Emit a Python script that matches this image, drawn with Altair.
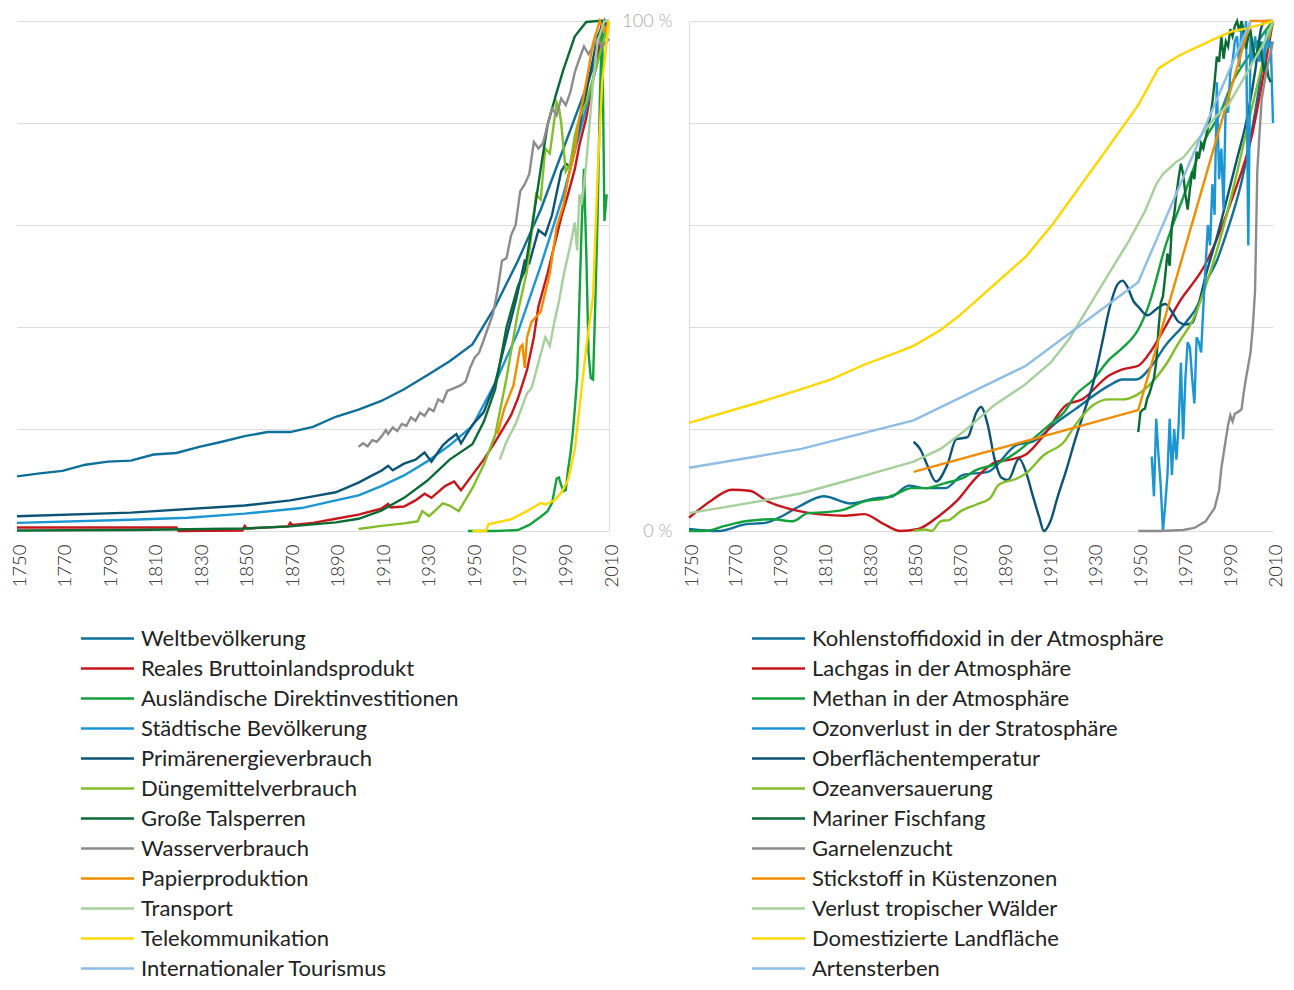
import altair as alt
import pandas as pd

# ---------------- Left panel: socio-economic trends ----------------
LEFT_NAMES = [
    "Weltbevölkerung", "Reales Bruttoinlandsprodukt", "Ausländische Direktinvestitionen",
    "Städtische Bevölkerung", "Primärenergieverbrauch", "Düngemittelverbrauch",
    "Große Talsperren", "Wasserverbrauch", "Papierproduktion", "Transport",
    "Telekommunikation", "Internationaler Tourismus",
]
RIGHT_NAMES = [
    "Kohlenstoffidoxid in der Atmosphäre", "Lachgas in der Atmosphäre", "Methan in der Atmosphäre",
    "Ozonverlust in der Stratosphäre", "Oberflächentemperatur", "Ozeanversauerung",
    "Mariner Fischfang", "Garnelenzucht", "Stickstoff in Küstenzonen",
    "Verlust tropischer Wälder", "Domestizierte Landfläche", "Artensterben",
]
COLORS = ["#0e6f98", "#c8161d", "#12a13c", "#1b96d3", "#0c5475", "#82be28",
          "#0a6b35", "#8c8c8c", "#f28c00", "#a5d09b", "#ffd700", "#8dbde6"]
YEAR_TICKS = list(range(1750, 2011, 20))

welt_y = [1750, 1760, 1770, 1780, 1790, 1800, 1810, 1820, 1830, 1840, 1850, 1860, 1870, 1880,
          1890, 1900, 1910, 1920, 1930, 1940, 1950, 1960, 1970, 1980, 1990, 2000, 2010]
welt_v = [10.7, 11.3, 11.8, 13.0, 13.6, 13.8, 15.0, 15.3, 16.5, 17.5, 18.6, 19.4, 19.4, 20.4,
          22.4, 23.8, 25.5, 27.8, 30.5, 33.3, 36.6, 44.0, 53.0, 63.0, 75.0, 87.0, 100.0]

bip_y = [1750, 1820, 1821, 1849, 1850, 1851, 1869, 1870, 1871, 1880, 1890, 1900, 1910, 1913, 1914,
         1920, 1925, 1929, 1932, 1938, 1942, 1945, 1950, 1955, 1960, 1967, 1970, 1974, 1977, 1979,
         1983, 1986, 1989, 1992, 1995, 1997, 2000, 2002, 2004, 2006, 2007, 2008, 2009, 2010]
bip_v = [0.7, 0.7, 0.0, 0.1, 1.0, 0.5, 0.9, 1.6, 1.2, 1.6, 2.4, 3.2, 4.4, 5.3, 4.6,
         4.8, 6.0, 7.3, 6.5, 8.8, 9.7, 8.0, 11.0, 14.0, 17.5, 22.7, 26.0, 31.6, 38.0, 44.0,
         50.5, 56.0, 61.5, 66.0, 71.0, 75.7, 81.0, 86.0, 91.0, 97.0, 100.0, 100.0, 99.0, 100.0]

fdi_y = [1948, 1960, 1970, 1975, 1980, 1983, 1985, 1987, 1988, 1989, 1990, 1991, 1992, 1993, 1994,
         1995, 1996, 1997, 1998, 1999, 2000, 2001, 2002, 2003, 2004, 2005, 2006, 2007, 2008, 2009]
fdi_v = [0.0, 0.0, 0.2, 1.2, 2.8, 3.9, 5.5, 10.3, 10.5, 9.0, 7.8, 8.0, 12.0, 15.0, 18.8,
         24.0, 30.0, 45.0, 60.0, 71.0, 55.0, 35.0, 30.0, 29.7, 45.0, 62.0, 85.0, 100.0, 60.8, 66.0]

stadt_y = [1750, 1800, 1825, 1850, 1875, 1890, 1900, 1910, 1920, 1930, 1940, 1950, 1960, 1970,
           1980, 1990, 2000, 2005, 2010]
stadt_v = [1.6, 2.2, 2.6, 3.4, 4.5, 6.0, 7.0, 8.8, 10.9, 13.6, 16.8, 20.6, 29.0, 39.0,
           52.0, 66.0, 83.0, 92.0, 100.0]

energie_y = [1750, 1800, 1850, 1870, 1880, 1890, 1900, 1906, 1910, 1913, 1915, 1920, 1925, 1929,
             1932, 1937, 1940, 1943, 1945, 1950, 1955, 1960, 1965, 1969, 1973, 1975, 1979, 1982,
             1985, 1989, 1991, 1993, 1995, 2000, 2005, 2008, 2009, 2010]
energie_v = [2.9, 3.6, 5.0, 6.0, 6.8, 7.6, 9.5, 10.9, 11.8, 12.8, 11.9, 13.2, 14.0, 15.4,
             13.6, 16.8, 18.0, 19.0, 17.2, 20.8, 23.3, 29.0, 38.0, 45.0, 53.0, 52.5, 59.0, 58.0,
             62.0, 70.5, 72.0, 71.5, 75.0, 86.0, 97.0, 100.0, 98.0, 100.0]

duenger_y = [1900, 1910, 1920, 1926, 1928, 1931, 1937, 1940, 1944, 1950, 1955, 1960, 1965, 1970,
             1974, 1978, 1980, 1982, 1984, 1987, 1988, 1989, 1991, 1993, 1995, 1997, 2000, 2005, 2010]
duenger_v = [0.4, 1.0, 1.5, 1.9, 3.9, 2.9, 5.4, 5.0, 3.9, 8.4, 13.0, 18.8, 30.0, 43.0,
             51.0, 66.0, 65.0, 75.0, 74.0, 84.0, 83.0, 80.0, 70.5, 72.0, 77.5, 81.0, 84.0, 92.0, 100.0]

talsperren_y = [1750, 1800, 1850, 1870, 1890, 1900, 1910, 1920, 1930, 1940, 1950, 1955, 1960, 1965,
                1970, 1973, 1977, 1980, 1983, 1987, 1990, 1995, 2000, 2005, 2010]
talsperren_v = [0.1, 0.2, 0.5, 0.9, 1.7, 2.4, 4.0, 6.5, 9.8, 14.0, 17.0, 21.4, 27.8, 40.0,
                48.0, 51.0, 62.0, 71.0, 79.6, 86.0, 90.5, 97.0, 99.8, 100.0, 100.0]

wasser_y = [1900, 1902, 1904, 1906, 1908, 1910, 1912, 1913, 1915, 1917, 1919, 1921, 1923, 1925,
            1927, 1929, 1931, 1933, 1935, 1937, 1939, 1941, 1943, 1945, 1947, 1949, 1951, 1953,
            1955, 1957, 1959, 1961, 1963, 1965, 1967, 1969, 1971, 1973, 1975, 1977, 1979, 1981,
            1983, 1985, 1987, 1989, 1991, 1993, 1995, 1997, 1999, 2001, 2003, 2005, 2007, 2010]
wasser_v = [16.5, 17.2, 16.6, 17.8, 17.5, 18.5, 19.8, 19.0, 20.3, 19.6, 21.0, 20.6, 22.3, 21.6,
            23.2, 22.6, 24.0, 23.5, 25.8, 25.3, 27.5, 27.8, 28.2, 28.6, 29.3, 32.0, 34.0, 35.0,
            37.5, 40.0, 42.5, 47.0, 53.0, 53.5, 58.0, 60.0, 66.6, 68.0, 70.0, 76.3, 75.0, 76.0,
            79.6, 82.9, 81.5, 84.8, 83.5, 86.0, 90.0, 92.6, 95.0, 93.5, 95.0, 96.5, 95.0, 96.5]

papier_y = [1961, 1964, 1968, 1971, 1972, 1973, 1974, 1976, 1980, 1984, 1987, 1990, 1992, 1995,
            1997, 2000, 2003, 2006, 2008, 2010]
papier_v = [19.0, 24.0, 28.5, 36.0, 36.5, 32.0, 38.0, 41.0, 43.0, 50.5, 59.6, 64.0, 69.0, 74.5,
            81.0, 88.0, 95.7, 100.0, 98.0, 100.0]

transport_y = [1962, 1965, 1969, 1974, 1976, 1979, 1982, 1984, 1986, 1988, 1990, 1993, 1995, 1996,
               1997, 1998, 2000, 2003, 2005, 2008, 2010]
transport_v = [14.0, 17.5, 21.0, 27.0, 28.0, 33.0, 38.0, 36.3, 41.0, 45.0, 50.0, 56.0, 60.5, 55.0,
               66.0, 64.0, 72.0, 88.0, 96.0, 100.0, 100.0]

telekom_y = [1950, 1956, 1957, 1967, 1974, 1980, 1982, 1986, 1989, 1992, 1995, 1998, 2000, 2003,
             2005, 2007, 2010]
telekom_v = [0.0, 0.0, 1.3, 2.3, 3.9, 5.5, 5.2, 6.0, 7.5, 10.0, 16.0, 28.0, 36.0, 46.0,
             70.0, 88.0, 100.0]

tourismus_y = []
tourismus_v = []

# ---------------- Right panel: earth-system trends ----------------
co2_y = [1750, 1763, 1775, 1784, 1790, 1799, 1810, 1822, 1833, 1840, 1848, 1855, 1864, 1872,
         1883, 1896, 1903, 1914, 1922, 1937, 1943, 1949, 1956, 1962, 1971, 1977, 1980, 1985,
         1989, 1996, 2002, 2006, 2010]
co2_v = [0.4, 0.0, 1.3, 1.6, 2.6, 4.8, 6.8, 5.4, 6.4, 6.7, 8.9, 8.4, 8.4, 11.0,
         11.6, 16.9, 17.5, 21.4, 23.9, 28.5, 29.7, 29.7, 32.4, 36.3, 40.8, 44.7, 48.5, 53.0,
         58.0, 68.5, 82.0, 93.0, 100.0]

n2o_y = [1750, 1760, 1769, 1777, 1785, 1796, 1810, 1819, 1828, 1837, 1844, 1852, 1862, 1869,
         1878, 1887, 1893, 1900, 1908, 1918, 1925, 1937, 1943, 1950, 1956, 1962, 1968, 1980,
         1992, 2001, 2006, 2010]
n2o_v = [2.6, 6.0, 8.1, 7.9, 5.8, 4.2, 3.2, 3.0, 3.3, 1.3, 0.0, 0.4, 3.2, 5.8,
         10.5, 13.6, 14.0, 15.0, 18.8, 24.7, 25.8, 30.5, 31.7, 32.4, 35.5, 40.0, 44.7, 52.4,
         65.4, 78.3, 90.0, 100.0]

ch4_y = [1750, 1757, 1766, 1775, 1787, 1796, 1803, 1811, 1819, 1828, 1837, 1843, 1849, 1855,
         1864, 1872, 1878, 1886, 1896, 1903, 1911, 1917, 1922, 1930, 1937, 1943, 1950, 1955,
         1962, 1970, 1980, 1986, 1992, 1999, 2006, 2010]
ch4_v = [0.0, 0.0, 1.0, 1.9, 2.3, 1.9, 3.5, 3.7, 4.2, 5.8, 6.4, 7.4, 8.4, 8.4,
         9.4, 10.4, 12.0, 13.0, 15.5, 18.0, 21.0, 23.3, 26.6, 29.7, 33.6, 35.9, 39.5, 44.7,
         55.7, 65.4, 77.0, 81.5, 88.0, 93.0, 97.7, 100.0]

ozon_y = list(range(1956, 2011))
ozon_v = [14.6, 6.8, 22.0, 15.0, 9.0, 0.0, 5.0, 11.0, 22.0, 11.0, 20.0, 14.0, 21.0, 33.0,
          18.0, 30.0, 37.0, 36.0, 30.0, 25.0, 38.0, 37.0, 35.0, 44.0, 52.0, 60.0, 56.0, 68.0,
          62.0, 88.0, 69.0, 75.0, 63.0, 85.0, 82.0, 90.0, 92.0, 96.0, 97.0, 91.0, 99.0, 95.0,
          100.0, 56.0, 97.0, 92.0, 97.0, 94.0, 92.0, 96.0, 91.0, 98.0, 95.0, 96.0, 80.0]

temp_y = [1850, 1853, 1856, 1860, 1865, 1869, 1874, 1878, 1880, 1883, 1886, 1889, 1892, 1897,
          1900, 1903, 1906, 1908, 1911, 1914, 1918, 1922, 1926, 1930, 1934, 1937, 1941, 1943,
          1945, 1948, 1950, 1954, 1958, 1962, 1965, 1968, 1971, 1974, 1977, 1980, 1985, 1990,
          1994, 1998, 2002, 2005, 2007, 2010]
temp_v = [17.5, 16.0, 13.0, 9.7, 13.0, 18.0, 18.4, 23.3, 24.3, 20.8, 14.2, 10.5, 10.0, 14.2,
          11.6, 7.0, 2.6, 0.0, 2.0, 6.5, 12.0, 18.0, 23.5, 29.1, 37.0, 43.3, 48.5, 49.1,
          48.0, 45.0, 44.0, 42.3, 43.5, 44.5, 43.0, 41.0, 40.5, 40.8, 44.7, 50.0, 57.6, 66.0,
          73.0, 80.0, 90.0, 99.0, 100.0, 100.0]

ozean_y = [1850, 1855, 1858, 1862, 1866, 1871, 1878, 1884, 1888, 1896, 1900, 1908, 1917, 1922,
           1930, 1937, 1943, 1949, 1956, 1962, 1968, 1975, 1980, 1985, 1992, 1999, 2006, 2010]
ozean_v = [0.0, 0.3, 0.0, 1.9, 2.2, 3.9, 5.2, 6.4, 9.1, 10.3, 11.3, 14.9, 17.5, 20.8,
           24.7, 25.8, 25.8, 26.6, 29.1, 32.4, 36.9, 42.0, 48.0, 55.0, 66.6, 80.0, 93.0, 100.0]

fisch_y = list(range(1950, 2010))
fisch_v = [19.4, 23.3, 23.8, 24.0, 26.0, 27.0, 28.5, 30.0, 33.0, 39.4, 44.7, 46.0, 50.0, 54.4,
           52.0, 60.0, 62.0, 66.0, 69.3, 72.0, 70.0, 66.0, 63.0, 67.0, 70.5, 69.0, 74.4, 73.0,
           76.0, 75.0, 77.0, 79.0, 81.0, 84.0, 88.0, 93.0, 92.0, 97.0, 92.6, 96.0, 95.0, 98.4,
           97.0, 99.0, 100.0, 98.0, 100.0, 98.0, 94.6, 97.0, 98.0, 95.0, 92.6, 94.0, 96.0, 93.0,
           90.0, 92.0, 89.0, 88.0]

garnelen_y = [1950, 1960, 1970, 1975, 1980, 1984, 1986, 1987, 1989, 1990, 1991, 1992, 1993, 1995,
              1996, 1997, 1998, 2000, 2001, 2002, 2003, 2004, 2005, 2007, 2008, 2010]
garnelen_v = [0.0, 0.0, 0.2, 0.6, 1.9, 4.5, 8.0, 12.3, 18.0, 20.8, 22.7, 21.5, 23.0, 23.5,
              23.9, 27.2, 30.0, 35.0, 40.0, 47.0, 70.5, 78.0, 84.8, 90.0, 92.0, 96.0]

stickstoff_y = [1850, 1950, 2000, 2010]
stickstoff_v = [11.6, 23.7, 100.0, 100.0]

wald_y = [1750, 1781, 1800, 1819, 1834, 1850, 1862, 1872, 1886, 1899, 1911, 1919, 1928, 1937,
          1946, 1953, 1958, 1961, 1967, 1970, 1977, 1984, 1990, 1996, 2002, 2006, 2010]
wald_v = [3.5, 5.8, 7.4, 9.7, 11.6, 13.6, 16.1, 19.4, 24.7, 28.5, 33.0, 37.5, 44.0, 50.5,
          57.0, 62.7, 68.0, 70.0, 72.4, 73.2, 77.0, 81.0, 83.5, 88.0, 92.6, 95.7, 100.0]

land_y = [1750, 1781, 1800, 1813, 1828, 1840, 1850, 1862, 1870, 1900, 1912, 1932, 1950, 1959,
          1968, 1984, 1992, 1999, 2010]
land_v = [21.2, 25.2, 27.8, 29.7, 32.6, 34.6, 36.3, 39.4, 42.1, 53.8, 60.2, 72.4, 83.5, 90.7,
          93.2, 96.5, 98.0, 98.6, 100.0]

arten_y = [1750, 1800, 1850, 1900, 1950, 2000]
arten_v = [12.4, 16.1, 21.7, 32.4, 48.8, 100.0]

LEFT_SERIES = [(welt_y, welt_v), (bip_y, bip_v), (fdi_y, fdi_v), (stadt_y, stadt_v),
               (energie_y, energie_v), (duenger_y, duenger_v), (talsperren_y, talsperren_v),
               (wasser_y, wasser_v), (papier_y, papier_v), (transport_y, transport_v),
               (telekom_y, telekom_v), (tourismus_y, tourismus_v)]
RIGHT_SERIES = [(co2_y, co2_v), (n2o_y, n2o_v), (ch4_y, ch4_v), (ozon_y, ozon_v),
                (temp_y, temp_v), (ozean_y, ozean_v), (fisch_y, fisch_v),
                (garnelen_y, garnelen_v), (stickstoff_y, stickstoff_v), (wald_y, wald_v),
                (land_y, land_v), (arten_y, arten_v)]
RIGHT_SMOOTH = {"Kohlenstoffidoxid in der Atmosphäre", "Lachgas in der Atmosphäre",
                "Methan in der Atmosphäre", "Oberflächentemperatur", "Ozeanversauerung"}


def to_frame(names, series):
    rows = []
    for i, (name, (ys, vs)) in enumerate(zip(names, series)):
        for y, v in zip(ys, vs):
            rows.append({"series": name, "order": i, "year": y, "value": v})
    return pd.DataFrame(rows, columns=["series", "order", "year", "value"])


left_df = to_frame(LEFT_NAMES, LEFT_SERIES)
right_df = to_frame(RIGHT_NAMES, RIGHT_SERIES)
right_df["smooth"] = right_df["series"].isin(RIGHT_SMOOTH)

FONT = "Lato"
GRID = "#dcdcdc"
LEG_Y = 606
LEG_SYMBOL = "M-2.65,0L2.65,0"   # a horizontal stroke, 53 px long at size 400
PLOT_H = 510


def x_enc():
    return alt.X("year:Q", title=None,
                 scale=alt.Scale(domain=[1750, 2010], nice=False, zero=False),
                 axis=alt.Axis(values=YEAR_TICKS, format="d", labelAngle=270, domain=False,
                               ticks=False, grid=False, labelFont=FONT, labelFontSize=18.5,
                               labelFontWeight=300, labelColor="#222222", labelPadding=13,
                               labelOffset=2, labelFlush=False, labelOverlap=False))


def y_enc(orient, show_labels):
    kw = dict(orient=orient, values=[0, 20, 40, 60, 80, 100], grid=True, gridColor=GRID,
              gridWidth=1, ticks=False, domain=True, domainColor=GRID, domainWidth=1)
    if show_labels:
        kw.update(labelExpr="datum.value == 0 ? '0 %' : (datum.value == 100 ? '100 %' : '')",
                  labelFont=FONT, labelFontSize=18, labelFontWeight=300, labelColor="#a8a8a8",
                  labelPadding=17)
    else:
        kw.update(labels=False)
    return alt.Y("value:Q", title=None, scale=alt.Scale(domain=[0, 100], nice=False),
                 axis=alt.Axis(**kw))


def color_enc(names, lx, ly):
    return alt.Color("series:N", scale=alt.Scale(domain=names, range=COLORS),
                     legend=alt.Legend(orient="none", legendX=lx, legendY=ly, title=None,
                                       symbolType=LEG_SYMBOL, symbolSize=400, symbolStrokeWidth=2.5,
                                       labelFont=FONT, labelFontSize=22, labelColor="#222222",
                                       rowPadding=7.0, labelOffset=22, padding=0, labelLimit=600))


left = alt.Chart(left_df).mark_line(strokeWidth=2.4).encode(
    x=x_enc(), y=y_enc("right", False), color=color_enc(LEFT_NAMES, 79, LEG_Y),
    detail="series:N", order="year:Q"
).properties(width=592, height=PLOT_H)

right_lin = alt.Chart(right_df).transform_filter("!datum.smooth").mark_line(strokeWidth=2.4).encode(
    x=x_enc(), y=y_enc("left", True), color=color_enc(RIGHT_NAMES, 78, LEG_Y),
    detail="series:N", order="year:Q"
)
right_smooth = alt.Chart(right_df).transform_filter("datum.smooth").mark_line(
    strokeWidth=2.4, interpolate="monotone").encode(
    x=x_enc(), y=y_enc("left", True), color=color_enc(RIGHT_NAMES, 78, LEG_Y),
    detail="series:N", order="year:Q"
)
right = alt.layer(right_smooth, right_lin).properties(width=584, height=PLOT_H)

chart = alt.hconcat(left, right, spacing=0).resolve_scale(color="independent").configure_view(
    stroke=None
).properties(padding={"left": 2, "top": 4, "right": 0, "bottom": 0})

chart.save("out.html", embed_options={"renderer": "svg", "actions": False})
